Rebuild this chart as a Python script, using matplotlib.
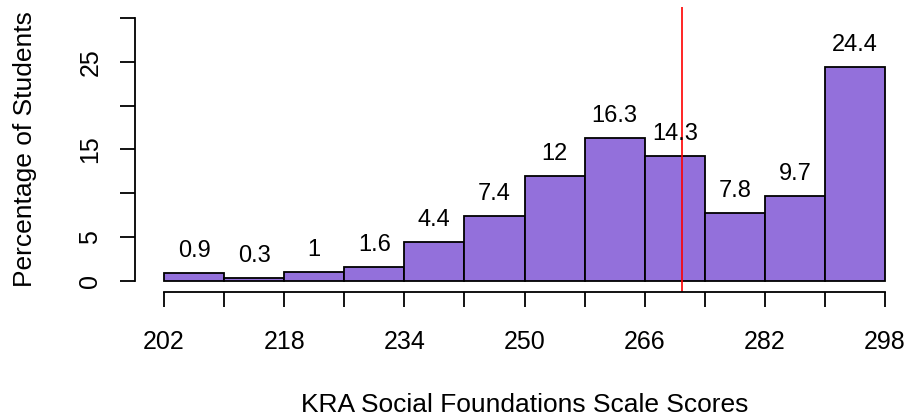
import matplotlib
matplotlib.use("Agg")
import matplotlib.pyplot as plt
import numpy as np

plt.rcParams['font.family'] = ['Liberation Sans', 'DejaVu Sans']

# data: histogram of scale scores (percent of students per bin)
bin_edges = [202, 210, 218, 226, 234, 242, 250, 258, 266, 274, 282, 290, 298]
percents = [0.9, 0.3, 1, 1.6, 4.4, 7.4, 12, 16.3, 14.3, 7.8, 9.7, 24.4]
bar_labels = ['0.9', '0.3', '1', '1.6', '4.4', '7.4', '12', '16.3', '14.3', '7.8', '9.7', '24.4']
x_tick_labels = [202, 218, 234, 250, 266, 282, 298]
y_ticks = [0, 5, 10, 15, 20, 25, 30]
y_tick_labels = ['0', '5', '', '15', '', '25', '']
ref_score = 271

W, H = 911, 417
fig = plt.figure(figsize=(W / 100, H / 100), dpi=100)
left, right, top, bottom = 135, 911, 7.4, 291.5
ax = fig.add_axes([left / W, 1 - bottom / H, (right - left) / W, (bottom - top) / H])

lefts = bin_edges[:-1]
widths = np.diff(bin_edges)
ax.bar(lefts, percents, width=widths, align='edge', color='#9370DB',
       edgecolor='black', linewidth=1.3)

# value labels, baseline ~16px above each bar
for x, w, p, s in zip(lefts, widths, percents, bar_labels):
    ax.annotate(s, (x + w / 2, p), xytext=(0, 11.5), textcoords='offset points',
                ha='center', va='baseline', fontsize=17)

ax.axvline(ref_score, color='red', linewidth=1.2)

ax.set_xlim(198.14, 301.46)
ax.set_ylim(-1.2, 31.2)

for s in ['top', 'right']:
    ax.spines[s].set_visible(False)
ax.spines['left'].set_bounds(0, 30)
ax.spines['bottom'].set_bounds(bin_edges[0], bin_edges[-1])
ax.spines['left'].set_linewidth(1.3)
ax.spines['bottom'].set_linewidth(1.3)

ax.set_xticks(bin_edges)
ax.set_xticklabels([str(b) if b in x_tick_labels else '' for b in bin_edges])
ax.set_yticks(y_ticks)
ax.set_yticklabels(y_tick_labels, rotation=90, va='center')
ax.tick_params(axis='both', length=11, width=1.3, labelsize=18)
ax.tick_params(axis='x', pad=17)
ax.tick_params(axis='y', pad=12.5)

fig.text(524.5 / W, 1 - 411.5 / H, 'KRA Social Foundations Scale Scores',
         ha='center', va='baseline', fontsize=19)
fig.text(25 / W, 1 - 149 / H, 'Percentage of Students', rotation=90,
         ha='center', va='center', fontsize=19)

fig.savefig('out.png', dpi=100)
